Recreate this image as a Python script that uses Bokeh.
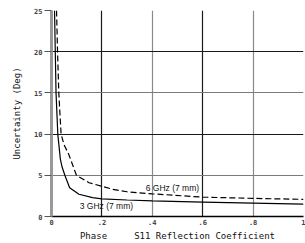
from bokeh.plotting import figure
from bokeh.models import Grid, FixedTicker, Range1d
from bokeh.core.properties import value
from bokeh.embed import file_html
from bokeh.resources import INLINE

# data
x_3ghz = [0.012, 0.015, 0.018, 0.025, 0.035, 0.042, 0.053, 0.072, 0.109, 0.163, 0.2, 0.3, 0.4, 0.6, 0.8, 1.0]
y_3ghz = [25, 20, 15, 10, 7, 6, 5, 3.5, 2.7, 2.3, 2.15, 2.0, 1.9, 1.75, 1.62, 1.5]
x_6ghz = [0.02, 0.024, 0.029, 0.038, 0.05, 0.069, 0.099, 0.149, 0.243, 0.3, 0.4, 0.6, 0.8, 1.0]
y_6ghz = [25, 20, 15, 10, 8.7, 7.5, 5, 4.1, 3.3, 3.0, 2.75, 2.35, 2.2, 2.08]
x_ticks = [0, 0.2, 0.4, 0.6, 0.8, 1.0]
x_tick_labels = ["0", ".2", ".4", ".6", ".8", "1"]
y_ticks = [0, 5, 10, 15, 20, 25]
y_tick_labels = ["0", "5", "10", "15", "20", "25"]
label_3ghz = "3 GHz (7 mm)"
label_6ghz = "6 GHz (7 mm)"
x_title = "S11 Reflection Coefficient"
y_title = "Uncertainty (Deg)"
phase_text = "Phase"

p = figure(width=305, height=243, output_backend="svg", toolbar_location=None,
           x_range=Range1d(0, 1), y_range=Range1d(0, 25),
           min_border_left=51, min_border_right=2, min_border_top=10, min_border_bottom=27)
p.outline_line_color = None
p.background_fill_color = "white"
p.border_fill_color = "white"

p.xgrid.visible = False
p.ygrid.visible = False
p.add_layout(Grid(dimension=0, ticker=FixedTicker(ticks=[0.2, 0.6]), grid_line_color="#1a1a1a", grid_line_width=1.2))
p.add_layout(Grid(dimension=0, ticker=FixedTicker(ticks=[0.4, 0.8]), grid_line_color="#8a8a8a", grid_line_width=1.2))
p.add_layout(Grid(dimension=1, ticker=FixedTicker(ticks=[10, 20]), grid_line_color="#1a1a1a", grid_line_width=1.2))
p.add_layout(Grid(dimension=1, ticker=FixedTicker(ticks=[5, 15, 25]), grid_line_color="#7a7a7a", grid_line_width=1.2))
p.add_layout(Grid(dimension=0, ticker=FixedTicker(ticks=[1.0]), grid_line_color="#bbbbbb", grid_line_width=1, grid_line_dash="2 2"))

p.line(x_3ghz, y_3ghz, line_color="black", line_width=1.2)
p.line(x_6ghz, y_6ghz, line_color="black", line_width=1.2, line_dash="6 3")

p.text([0.374], [3.45], text=[label_6ghz], text_font=value("Liberation Sans"), text_font_size="8.5px",
       text_baseline="middle", text_align="left", text_color="#111111")
p.text([0.112], [1.33], text=[label_3ghz], text_font=value("Liberation Sans"), text_font_size="8.5px",
       text_baseline="middle", text_align="left", text_color="#111111")

# axes
xa = p.xaxis[0]
xa.ticker = FixedTicker(ticks=x_ticks)
xa.major_label_overrides = {t: l for t, l in zip(x_ticks, x_tick_labels)}
xa.major_tick_out = 0
xa.major_tick_in = 0
xa.minor_tick_out = 0
xa.minor_tick_in = 0
xa.major_label_standoff = 2
xa.major_label_text_font = "DejaVu Sans Mono"
xa.major_label_text_font_size = "7px"
xa.major_label_text_font_style = "bold"
xa.axis_line_color = "black"
xa.axis_line_width = 1.5
# "Phase" and the axis title share one row (non-breaking spaces keep the gap)
xa.axis_label = phase_text + "\u00a0" * 5 + x_title
xa.axis_label_text_font = "DejaVu Sans Mono"
xa.axis_label_text_font_size = "9px"
xa.axis_label_text_font_style = "normal"
xa.axis_label_text_color = "#111111"
xa.axis_label_standoff = 3

ya = p.yaxis[0]
ya.ticker = FixedTicker(ticks=y_ticks)
ya.major_label_overrides = {t: l for t, l in zip(y_ticks, y_tick_labels)}
ya.major_tick_out = 7
ya.major_tick_in = 0
ya.minor_tick_out = 0
ya.minor_tick_in = 0
ya.major_tick_line_color = "#555555"
ya.major_label_standoff = 2
ya.major_label_text_font = "DejaVu Sans Mono"
ya.major_label_text_font_size = "7px"
ya.major_label_text_font_style = "bold"
ya.axis_line_color = "#999999"
ya.axis_line_width = 3
ya.axis_label = y_title
ya.axis_label_text_font = "DejaVu Sans Mono"
ya.axis_label_text_font_size = "9px"
ya.axis_label_text_font_style = "normal"
ya.axis_label_text_color = "#111111"
ya.axis_label_standoff = 9

open("out.html", "w").write(file_html(p, INLINE))
